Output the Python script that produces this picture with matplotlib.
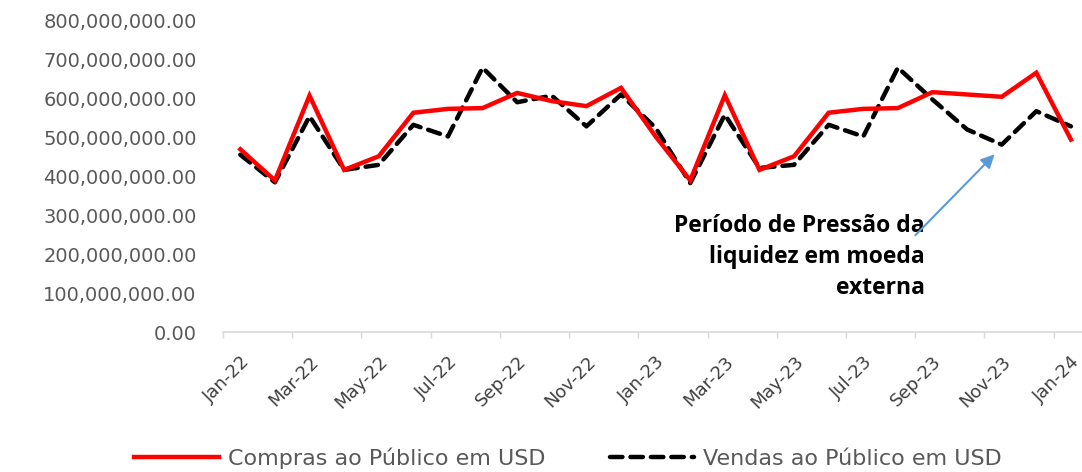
import matplotlib
matplotlib.use("Agg")
import matplotlib.pyplot as plt
from matplotlib.ticker import FuncFormatter, FixedLocator

months = ["Jan-22", "Feb-22", "Mar-22", "Apr-22", "May-22", "Jun-22", "Jul-22", "Aug-22",
          "Sep-22", "Oct-22", "Nov-22", "Dec-22", "Jan-23", "Feb-23", "Mar-23", "Apr-23",
          "May-23", "Jun-23", "Jul-23", "Aug-23", "Sep-23", "Oct-23", "Nov-23", "Dec-23",
          "Jan-24"]
compras = [470e6, 390e6, 608e6, 417e6, 452e6, 564e6, 574e6, 576e6, 615e6, 594e6, 581e6, 628e6,
           503e6, 390e6, 609e6, 417e6, 452e6, 564e6, 574e6, 576e6, 617e6, 611e6, 605e6, 667e6,
           495e6]
vendas = [456e6, 385e6, 555e6, 417e6, 430e6, 533e6, 503e6, 680e6, 591e6, 608e6, 529e6, 611e6,
          525e6, 383e6, 559e6, 422e6, 430e6, 533e6, 503e6, 680e6, 598e6, 521e6, 482e6, 568e6,
          529e6]
yticks = [0, 100e6, 200e6, 300e6, 400e6, 500e6, 600e6, 700e6, 800e6]
label_names = ["Compras ao Público em USD", "Vendas ao Público em USD"]
annot_text = "Período de Pressão da\nliquidez em moeda\nexterna"

W, H = 1082, 472
fig = plt.figure(figsize=(W / 100, H / 100), dpi=100)
ax = fig.add_axes([223 / W, 1 - 332 / H, (1082 - 223) / W, (332 - 21) / H])

x = list(range(len(months)))
ax.plot(x, compras, color="#FF0000", lw=3.2, solid_joinstyle="miter", label=label_names[0], zorder=3)
ax.plot(x, vendas, color="black", lw=3.2, dashes=(2.8, 1.8), dash_capstyle="round",
        label=label_names[1], zorder=2)

ax.set_xlim(-0.5, 24.32)
ax.set_ylim(0, 800e6)
ax.set_yticks(yticks)
ax.yaxis.set_major_formatter(FuncFormatter(lambda v, p: f"{v:,.2f}"))
ax.tick_params(axis="y", length=0, pad=19, labelsize=14, labelcolor="#595959")

ax.set_xticks(x[::2])
ax.set_xticklabels(months[::2], rotation=45, ha="right", rotation_mode="anchor")
ax.tick_params(axis="x", which="major", length=0, pad=15, labelsize=13, labelcolor="#404040")
ax.xaxis.set_minor_locator(FixedLocator([-0.5 + 2 * k for k in range(13)]))
ax.tick_params(axis="x", which="minor", length=4, color="#D9D9D9", width=1)

for s in ["top", "right", "left"]:
    ax.spines[s].set_visible(False)
ax.spines["bottom"].set_color("#D9D9D9")
ax.spines["bottom"].set_linewidth(1.2)

ax.text(19.77, 193e6, annot_text, ha="right", va="center", fontsize=16.5, fontweight="bold",
        family="Open Sans", linespacing=1.38, color="black")
ax.annotate("", xy=(21.85, 462e6), xytext=(19.45, 244e6),
            arrowprops=dict(arrowstyle="-|>", color="#5B9BD5", lw=1.5, mutation_scale=20))

fig.legend(loc="center", ncol=2, bbox_to_anchor=(0.525, 14 / H), frameon=False,
           fontsize=16, handlelength=3.8, handletextpad=0.4, columnspacing=2.9,
           labelcolor="#595959")

fig.savefig("out.png", dpi=100)
